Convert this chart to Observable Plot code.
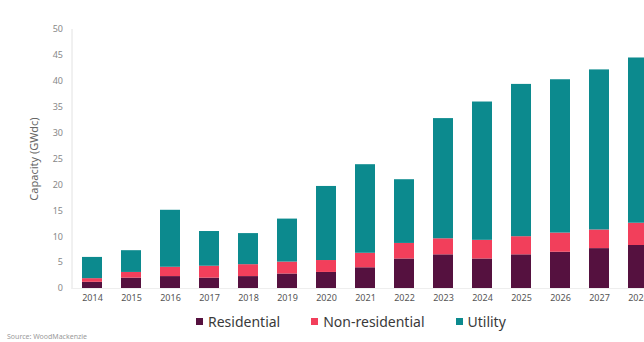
<!DOCTYPE html>
<html>
<head>
<meta charset="utf-8">
<script src="https://cdn.jsdelivr.net/npm/d3@7"></script>
<script src="https://cdn.jsdelivr.net/npm/@observablehq/plot@0.6"></script>
<style>
  html, body { margin: 0; padding: 0; background: #fff; overflow: hidden; width: 644px; height: 342px; }
  #wrap { position: relative; width: 644px; height: 342px; overflow: hidden; font-family: "Noto Sans", sans-serif; }
  #chart { position: absolute; left: 0; top: 0; width: 660px; }
  #chart svg { max-width: none !important; width: 660px !important; height: 308px !important; }
  #legend { position: absolute; left: 196px; top: 312px; display: flex; gap: 31px; font-size: 14px; color: #3a3a3a; }
  #legend span.item { display: flex; align-items: center; }
  #legend i { display: inline-block; width: 7px; height: 7px; margin-right: 5px; }
  #source { position: absolute; left: 7px; top: 332px; font-size: 7px; color: #9a9a9a; }
</style>
</head>
<body>
<div id="wrap">
  <div id="chart"></div>
  <div id="legend"></div>
  <div id="source">Source: WoodMackenzie</div>
</div>
<script>
const years = ["2014","2015","2016","2017","2018","2019","2020","2021","2022","2023","2024","2025","2026","2027","2028"];
const residential    = [1.2, 2.0, 2.3, 2.0, 2.3, 2.8, 3.1, 4.0, 5.7, 6.5, 5.7, 6.5, 7.0, 7.7, 8.3];
const nonResidential = [0.7, 1.1, 1.8, 2.3, 2.3, 2.3, 2.3, 2.8, 3.0, 3.1, 3.6, 3.5, 3.7, 3.6, 4.3];
const utility        = [4.1, 4.2, 11.0, 6.7, 6.0, 8.3, 14.3, 17.1, 12.3, 23.2, 26.7, 29.4, 29.6, 30.9, 31.9];
const segments = ["Residential", "Non-residential", "Utility"];
const colors = ["#55113f", "#f23f5b", "#0c8a8e"];
const yTicks = [0, 5, 10, 15, 20, 25, 30, 35, 40, 45, 50];

const series = [residential, nonResidential, utility];
const rows = [];
years.forEach((yr, i) => {
  segments.forEach((s, j) => rows.push({year: yr, segment: s, value: series[j][i]}));
});

const chart = Plot.plot({
  width: 660,
  height: 308,
  marginLeft: 71.5,
  marginRight: 2.3,
  marginTop: 29,
  marginBottom: 20,
  style: {fontFamily: "Noto Sans, sans-serif", fontSize: "9px", background: "transparent", maxWidth: "none"},
  x: {domain: years, paddingInner: 0.5, paddingOuter: 0.25, label: null},
  y: {domain: [0, 50]},
  color: {domain: segments, range: colors},
  marks: [
    Plot.frame({anchor: "left", stroke: "#e2e2e2"}),
    Plot.frame({anchor: "bottom", stroke: "#eeeeee"}),
    Plot.barY(rows, {x: "year", y: "value", fill: "segment", order: segments}),
    Plot.axisX({tickSize: 0, tickPadding: 6, fill: "#555", label: null}),
    Plot.axisY({ticks: yTicks, tickSize: 0, tickPadding: 9, fill: "#888",
      label: "Capacity (GWdc)", labelAnchor: "center", labelOffset: 42, labelArrow: "none"})
  ]
});
chart.querySelectorAll("[aria-label='y-axis label'] text, [aria-label='y-axis label']").forEach(el => {
  el.setAttribute("font-size", "11px");
  el.setAttribute("fill", "#666");
});
document.getElementById("chart").appendChild(chart);

const legend = document.getElementById("legend");
segments.forEach((s, j) => {
  const item = document.createElement("span");
  item.className = "item";
  item.innerHTML = `<i style="background:${colors[j]}"></i>${s}`;
  legend.appendChild(item);
});
</script>
</body>
</html>
